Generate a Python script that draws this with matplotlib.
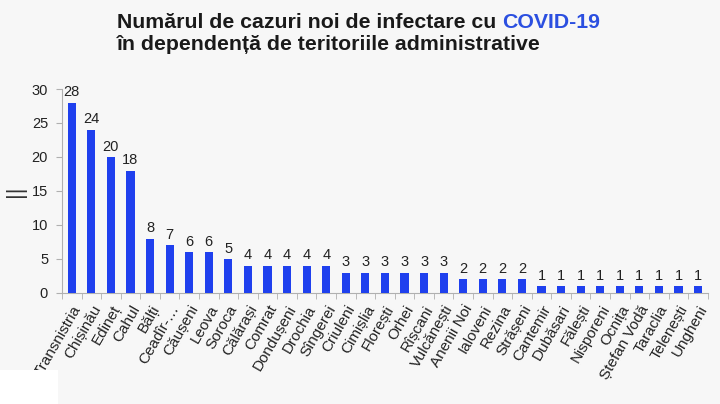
import numpy as np
import matplotlib.pyplot as plt
from matplotlib.patches import Rectangle

plt.rcParams['font.family'] = ['Liberation Sans', 'DejaVu Sans']

raioane = ["Transnistria", "Chișinău", "Edineț", "Cahul", "Bălți", "Ceadîr-…",
           "Căușeni", "Leova", "Soroca", "Călărași", "Comrat", "Dondușeni",
           "Drochia", "Sîngerei", "Criuleni", "Cimișlia", "Florești", "Orhei",
           "Rîșcani", "Vulcănești", "Anenii Noi", "Ialoveni", "Rezina", "Strășeni",
           "Cantemir", "Dubăsari", "Fălești", "Nisporeni", "Ocnița", "Ștefan Vodă",
           "Taraclia", "Telenești", "Ungheni"]
cazuri = [28, 24, 20, 18, 8, 7, 6, 6, 5, 4, 4, 4, 4, 4, 3, 3, 3, 3, 3, 3,
          2, 2, 2, 2, 1, 1, 1, 1, 1, 1, 1, 1, 1]
y_ticks = [0, 5, 10, 15, 20, 25, 30]

bg = "#f7f7f7"
blue = "#1f40ee"
grey = "#b0b0b0"

fig = plt.figure(figsize=(7.2, 4.04), dpi=100, facecolor=bg)
ax = fig.add_axes([0.0861, 0.2748, 0.897, 0.5049])
ax.set_facecolor(bg)

x = np.arange(len(raioane))
ax.bar(x, cazuri, width=0.42, color=blue, zorder=3)
for xi, v in zip(x, cazuri):
    ax.text(xi, v + 0.5, str(v), ha="center", va="bottom", fontsize=10.5, color="#222222")

ax.set_xlim(-0.5, len(raioane) - 0.5)
ax.set_ylim(0, 30)
ax.set_yticks(y_ticks)
ax.tick_params(axis="y", labelsize=10.5, length=4, color=grey, labelcolor="#222222", pad=6)
ax.set_xticks(x)
ax.set_xticklabels(raioane, rotation=60, ha="right", rotation_mode="anchor", fontsize=11, color="#222222")
ax.tick_params(axis="x", length=0, pad=7)
ax.set_xticks(np.arange(len(raioane) + 1) - 0.5, minor=True)
ax.tick_params(axis="x", which="minor", length=4, color=grey)
for s in ["top", "right"]:
    ax.spines[s].set_visible(False)
for s in ["left", "bottom"]:
    ax.spines[s].set_color(grey)
    ax.spines[s].set_linewidth(0.8)

ax.set_ylabel("||", fontsize=16, color="#333333", labelpad=4)

# titlu
t1 = fig.text(117 / 720, 1 - 22 / 404, "Numărul de cazuri noi de infectare cu ",
              fontsize=15.3, fontweight="bold", color="#1a1a1a", va="center")
fig.canvas.draw()
bb = t1.get_window_extent(fig.canvas.get_renderer())
fig.text(bb.x1 / 720, 1 - 22 / 404, "COVID-19", fontsize=15.3, fontweight="bold",
         color="#2b4fe0", va="center")
fig.text(117 / 720, 1 - 45 / 404, "în dependență de teritoriile administrative",
         fontsize=15.3, fontweight="bold", color="#1a1a1a", va="center")

fig.patches.append(Rectangle((0, 0), 58 / 720, 34 / 404, transform=fig.transFigure,
                             facecolor="white", edgecolor="none", zorder=0))

fig.savefig("out.png", dpi=100, facecolor=bg)
